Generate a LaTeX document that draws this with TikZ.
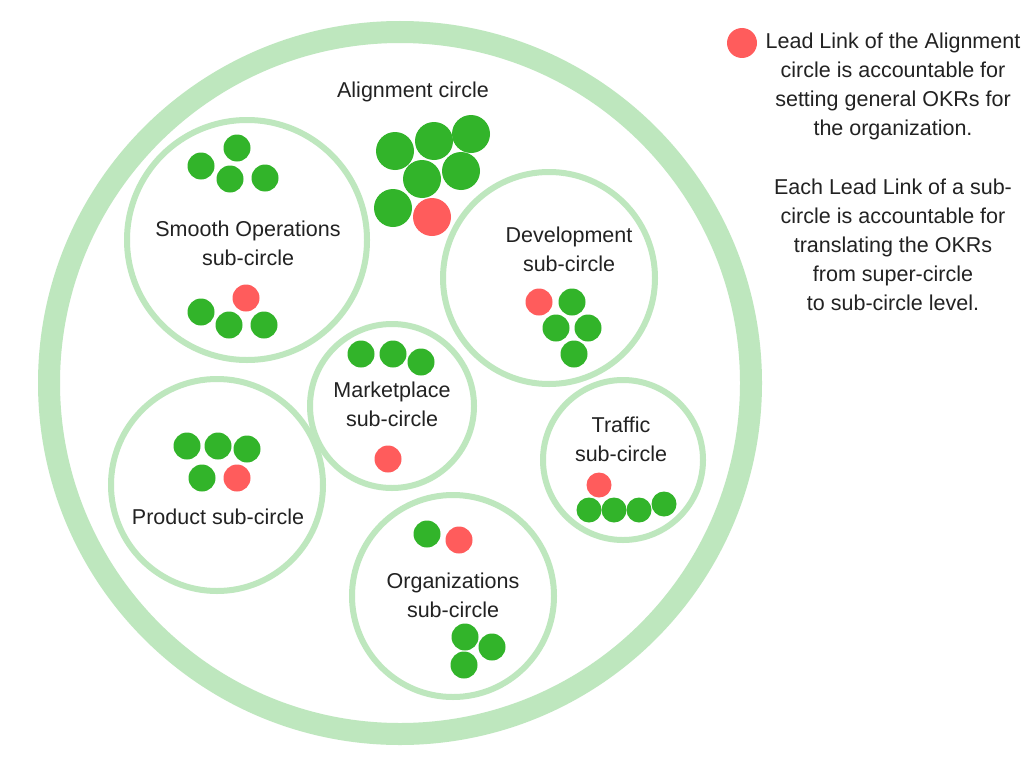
\documentclass[tikz,border=0pt]{standalone}
\usepackage{fontspec}
\setmainfont{Liberation Sans}
\usetikzlibrary{positioning}
\definecolor{ring-green}{HTML}{BEE7BE}
\definecolor{dot-green}{HTML}{32B42A}
\definecolor{dot-red}{HTML}{FF5C5C}
\definecolor{ink}{HTML}{222222}

\begin{document}
\begin{tikzpicture}[
  x=1pt, y=-1pt,
  ring/.style={circle, draw=ring-green, line width=22pt, inner sep=0pt},
  sub/.style={circle, draw=ring-green, line width=6pt, inner sep=0pt},
  gdot/.style={circle, fill=dot-green, inner sep=0pt, minimum size=27pt},
  rdot/.style={circle, fill=dot-red, inner sep=0pt, minimum size=27pt},
  bigg/.style={gdot, minimum size=38pt},
  bigr/.style={rdot, minimum size=38pt},
  lbl/.style={text=ink, font=\fontsize{21.5}{29}\selectfont, align=center, inner sep=0pt},
]
  \useasboundingbox[fill=white] (0,0) rectangle (1024,768);

  % alignment circle
  \node[ring, minimum size=702pt] (align) at (400,383) {};
  \node[lbl] (alignlbl) at (413,92) {Alignment circle};
  \node[bigg] (al1) at (395,151) {};
  \node[bigg] (al2) at (434,141) {};
  \node[bigg] (al3) at (471,134) {};
  \node[bigg] (al4) at (422,179) {};
  \node[bigg] (al5) at (461,171) {};
  \node[bigg] (al6) at (393,208) {};
  \node[bigr] (alLL) at (432,217) {};

  % sub-circles
  \node[sub, minimum size=240pt] (smooth) at (247,240) {};
  \node[lbl] (smoothlbl) at (248,243) {Smooth Operations\\sub-circle};
  \node[gdot] (so1) at (201,166) {};
  \node[gdot] (so2) at (237,148) {};
  \node[gdot] (so3) at (230,179) {};
  \node[gdot] (so4) at (265,178) {};
  \node[rdot] (soLL) at (246,298) {};
  \node[gdot] (so5) at (201,312) {};
  \node[gdot] (so6) at (229,325) {};
  \node[gdot] (so7) at (264,325) {};

  \node[sub, minimum size=212pt] (dev) at (549,278) {};
  \node[lbl] (devlbl) at (569,249) {Development\\sub-circle};
  \node[rdot] (devLL) at (539,302) {};
  \node[gdot] (dv1) at (572,302) {};
  \node[gdot] (dv2) at (556,328) {};
  \node[gdot] (dv3) at (588,328) {};
  \node[gdot] (dv4) at (574,354) {};

  \node[sub, minimum size=164pt] (market) at (392,406) {};
  \node[lbl] (marketlbl) at (392,404) {Marketplace\\sub-circle};
  \node[gdot] (mk1) at (361,354) {};
  \node[gdot] (mk2) at (393,354) {};
  \node[gdot] (mk3) at (421,362) {};
  \node[rdot] (mkLL) at (388,459) {};

  \node[sub, minimum size=212pt] (product) at (217,485) {};
  \node[lbl] (productlbl) at (218,517) {Product sub-circle};
  \node[gdot] (pr1) at (187,446) {};
  \node[gdot] (pr2) at (218,446) {};
  \node[gdot] (pr3) at (247,449) {};
  \node[gdot] (pr4) at (202,478) {};
  \node[rdot] (prLL) at (237,478) {};

  \node[sub, minimum size=160pt] (traffic) at (623,460) {};
  \node[lbl] (trafficlbl) at (621,439) {Traffic\\sub-circle};
  \node[rdot, minimum size=25pt] (trLL) at (599,485) {};
  \node[gdot, minimum size=25pt] (tr1) at (589,510) {};
  \node[gdot, minimum size=25pt] (tr2) at (614,510) {};
  \node[gdot, minimum size=25pt] (tr3) at (639,510) {};
  \node[gdot, minimum size=25pt] (tr4) at (664,504) {};

  \node[sub, minimum size=202pt] (orgs) at (453,596) {};
  \node[lbl] (orgslbl) at (453,595) {Organizations\\sub-circle};
  \node[gdot] (or1) at (427,534) {};
  \node[rdot] (orLL) at (459,540) {};
  \node[gdot] (or2) at (465,637) {};
  \node[gdot] (or3) at (492,647) {};
  \node[gdot] (or4) at (464,665) {};

  % legend
  \node[rdot, minimum size=30pt] (key) at (742,43) {};
  \node[lbl] (note1) at (893,86) {Lead Link of the Alignment\\circle is accountable for\\setting general OKRs for\\the organization.};
  \node[lbl] (note2) at (893,245) {Each Lead Link of a sub-\\circle is accountable for\\translating the OKRs\\from super-circle\\to sub-circle level.};
\end{tikzpicture}
\end{document}
